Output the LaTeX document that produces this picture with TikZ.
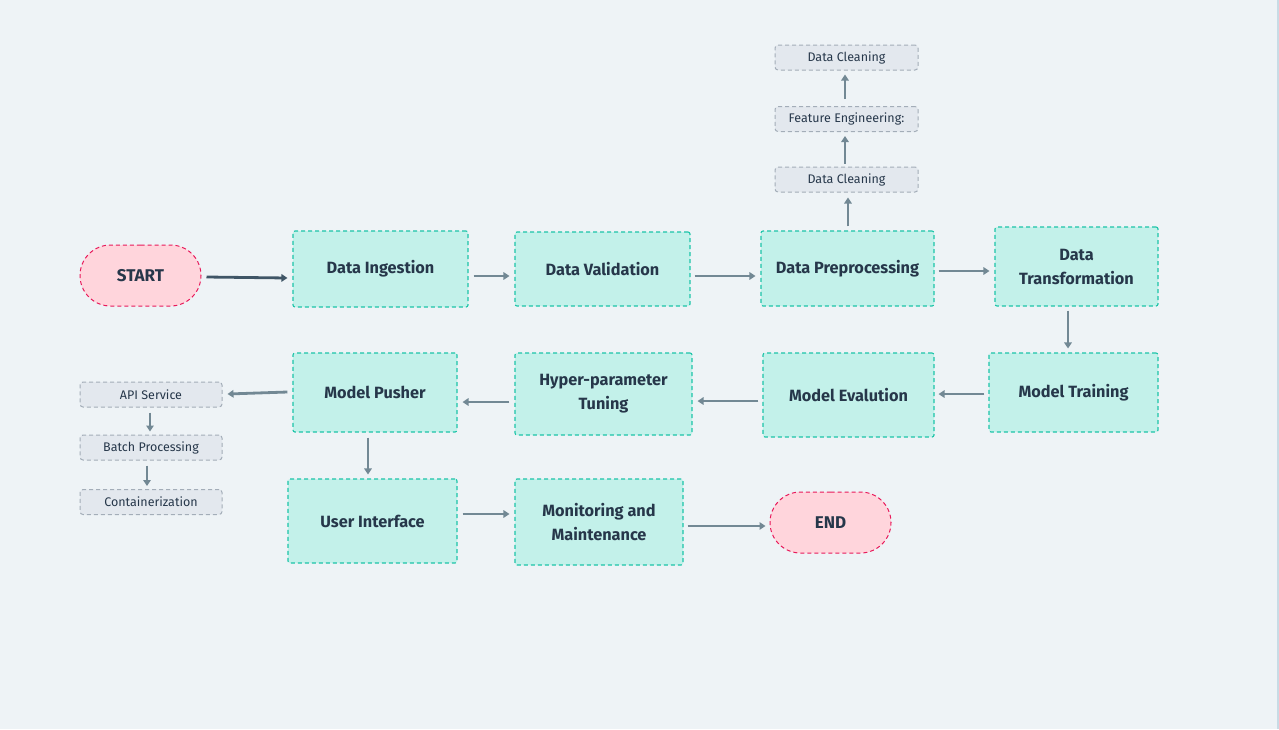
\documentclass[tikz,border=0pt]{standalone}
\usepackage{fontspec}
\setmainfont{Fira Sans}
\usetikzlibrary{arrows.meta,shapes.misc}
\definecolor{bg}{HTML}{EEF3F6}
\definecolor{edge}{HTML}{C8DBE5}
\definecolor{mainfill}{HTML}{C3F1EA}
\definecolor{maindraw}{HTML}{1CC4A8}
\definecolor{subfill}{HTML}{E3E8EE}
\definecolor{subdraw}{HTML}{A3ADB8}
\definecolor{termfill}{HTML}{FFD5DC}
\definecolor{termdraw}{HTML}{E8195A}
\definecolor{txt}{HTML}{26374A}
\definecolor{arrc}{HTML}{728894}
\definecolor{arrdark}{HTML}{3F5566}
\tikzset{
  mainbox/.style={draw=maindraw, fill=mainfill, line width=1.1pt, dash pattern=on 4pt off 3pt, rounded corners=2pt, text=txt, align=center, font=\fontsize{16.3}{24}\selectfont\bfseries, inner sep=0pt},
  subbox/.style={draw=subdraw, fill=subfill, line width=1pt, dash pattern=on 4pt off 3pt, rounded corners=3pt, text=txt, font=\fontsize{12.5}{15}\selectfont, inner sep=0pt, minimum width=143pt, minimum height=25pt},
  term/.style={rounded rectangle, draw=termdraw, fill=termfill, line width=1pt, dash pattern=on 4pt off 3pt, text=txt, font=\fontsize{17}{20}\selectfont\bfseries, minimum width=121pt, minimum height=61pt, inner sep=0pt},
  arr/.style={draw=arrc, line width=2.8pt, -{Triangle[length=6pt,width=7.5pt]}},
  arrd/.style={draw=arrdark, line width=2.8pt, -{Triangle[length=6pt,width=7.5pt]}}
}
\begin{document}
\begin{tikzpicture}[x=1pt,y=-1pt]
\useasboundingbox (0,0) rectangle (1279,729);
\fill[bg] (0,0) rectangle (1279,729);
\fill[edge] (1277,0) rectangle (1279,729);

\node[term] (start) at (140.5,275.5) {START};
\node[term] (end) at (830.5,522.5) {END};

\node[mainbox, minimum width=175pt, minimum height=76pt] (ing) at (380.5,269) {Data Ingestion};
\node[mainbox, minimum width=175pt, minimum height=74pt] (val) at (602.5,269) {Data Validation};
\node[mainbox, minimum width=173pt, minimum height=75pt] (pre) at (847.5,268.5) {Data Preprocessing};
\node[mainbox, minimum width=163pt, minimum height=79pt] (tra) at (1076.5,266.5) {Data\\Transformation};
\node[mainbox, minimum width=169pt, minimum height=79pt] (trn) at (1073.5,392.5) {Model Training};
\node[mainbox, minimum width=171pt, minimum height=84pt] (eva) at (848.5,395) {Model Evalution};
\node[mainbox, minimum width=177pt, minimum height=82pt] (hyp) at (603.5,394) {Hyper-parameter\\Tuning};
\node[mainbox, minimum width=164pt, minimum height=79pt] (pus) at (375,392.5) {Model Pusher};
\node[mainbox, minimum width=169pt, minimum height=84pt] (ui) at (372.5,521) {User Interface};
\node[mainbox, minimum width=168pt, minimum height=86pt] (mon) at (599,522) {Monitoring and\\Maintenance};

\node[subbox] (dc1) at (846.5,179.5) {Data Cleaning};
\node[subbox] (fe) at (846.5,119) {Feature Engineering:};
\node[subbox] (dc2) at (846.5,57.5) {Data Cleaning};

\node[subbox, minimum width=142pt] (api) at (151,394.5) {API Service};
\node[subbox, minimum width=142pt] (bat) at (151,447.5) {Batch Processing};
\node[subbox, minimum width=142pt] (con) at (151,502) {Containerization};

% main row 1
\draw[arrd] ([xshift=5pt]start.east |- 0,277) -- ([xshift=-5pt]ing.west |- 0,278);
\draw[arr] ([xshift=5pt]ing.east |- 0,276) -- ([xshift=-5pt]val.west |- 0,276);
\draw[arr] ([xshift=4pt]val.east |- 0,276) -- ([xshift=-5pt]pre.west |- 0,276);
\draw[arr] ([xshift=4pt]pre.east |- 0,271) -- ([xshift=-5pt]tra.west |- 0,271);
% down
\draw[arr] ([yshift=-4pt]tra.south -| 1068,0) -- ([yshift=4pt]trn.north -| 1068,0);
% row 2 leftwards
\draw[arr] ([xshift=-4pt]trn.west |- 0,394) -- ([xshift=4pt]eva.east |- 0,394);
\draw[arr] ([xshift=-4pt]eva.west |- 0,401) -- ([xshift=5pt]hyp.east |- 0,401);
\draw[arr] ([xshift=-5pt]hyp.west |- 0,402) -- ([xshift=5pt]pus.east |- 0,402);
\draw[arr] ([xshift=-5pt]pus.west |- 0,392) -- ([xshift=5pt]api.east |- 0,394);
% pusher down to UI
\draw[arr] ([yshift=-5pt]pus.south -| 368,0) -- ([yshift=4pt]ui.north -| 368,0);
% row 3
\draw[arr] ([xshift=5pt]ui.east |- 0,514) -- ([xshift=-5pt]mon.west |- 0,514);
\draw[arr] ([xshift=4pt]mon.east |- 0,526) -- ([xshift=-4pt]end.west |- 0,526);
% preprocessing sub-steps (upwards)
\draw[arr] ([yshift=4pt]pre.north -| 848,0) -- ([yshift=-5pt]dc1.south -| 848,0);
\draw[arr] ([yshift=3pt]dc1.north -| 845,0) -- ([yshift=-4pt]fe.south -| 845,0);
\draw[arr] ([yshift=7pt]fe.north -| 845,0) -- ([yshift=-4pt]dc2.south -| 845,0);
% deployment sub-steps (downwards)
\draw[arr] ([yshift=-5pt]api.south -| 150,0) -- ([yshift=3pt]bat.north -| 150,0);
\draw[arr] ([yshift=-5pt]bat.south -| 147,0) -- ([yshift=3pt]con.north -| 147,0);
\end{tikzpicture}
\end{document}
